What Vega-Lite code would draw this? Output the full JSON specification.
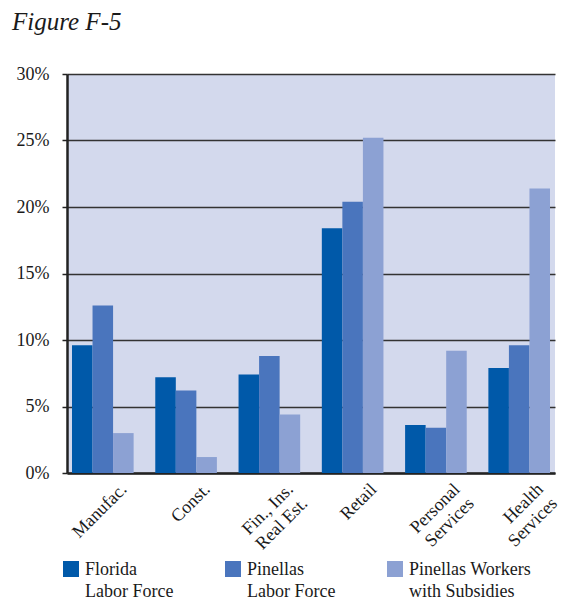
{
  "$schema": "https://vega.github.io/schema/vega-lite/v6.json",
  "autosize": {"type": "none"},
  "width": 488,
  "height": 399,
  "padding": {"left": 67, "top": 74, "right": 8, "bottom": 137},
  "background": "white",
  "title": {
    "text": "Figure F-5",
    "font": "Liberation Serif",
    "fontStyle": "italic",
    "fontWeight": "normal",
    "fontSize": 25,
    "color": "#1a1a1a",
    "anchor": "start",
    "frame": "group",
    "dx": -55,
    "offset": 30
  },
  "data": {
    "values": [
      {"category": "Manufac.", "series": "Florida|Labor Force", "value": 9.6},
      {"category": "Manufac.", "series": "Pinellas|Labor Force", "value": 12.6},
      {"category": "Manufac.", "series": "Pinellas Workers|with Subsidies", "value": 3.0},
      {"category": "Const.", "series": "Florida|Labor Force", "value": 7.2},
      {"category": "Const.", "series": "Pinellas|Labor Force", "value": 6.2},
      {"category": "Const.", "series": "Pinellas Workers|with Subsidies", "value": 1.2},
      {"category": "Fin., Ins.|Real Est.", "series": "Florida|Labor Force", "value": 7.4},
      {"category": "Fin., Ins.|Real Est.", "series": "Pinellas|Labor Force", "value": 8.8},
      {"category": "Fin., Ins.|Real Est.", "series": "Pinellas Workers|with Subsidies", "value": 4.4},
      {"category": "Retail", "series": "Florida|Labor Force", "value": 18.4},
      {"category": "Retail", "series": "Pinellas|Labor Force", "value": 20.4},
      {"category": "Retail", "series": "Pinellas Workers|with Subsidies", "value": 25.2},
      {"category": "Personal|Services", "series": "Florida|Labor Force", "value": 3.6},
      {"category": "Personal|Services", "series": "Pinellas|Labor Force", "value": 3.4},
      {"category": "Personal|Services", "series": "Pinellas Workers|with Subsidies", "value": 9.2},
      {"category": "Health|Services", "series": "Florida|Labor Force", "value": 7.9},
      {"category": "Health|Services", "series": "Pinellas|Labor Force", "value": 9.6},
      {"category": "Health|Services", "series": "Pinellas Workers|with Subsidies", "value": 21.4}
    ]
  },
  "mark": {"type": "bar"},
  "encoding": {
    "x": {
      "field": "category",
      "type": "nominal",
      "sort": ["Manufac.", "Const.", "Fin., Ins.|Real Est.", "Retail", "Personal|Services", "Health|Services"],
      "scale": {"paddingInner": 0.26, "paddingOuter": 0.06},
      "axis": {
        "title": null,
        "ticks": false,
        "domainColor": "#222222",
        "domainWidth": 2.5,
        "labelAngle": -45,
        "labelAlign": "right",
        "labelBaseline": "top",
        "labelExpr": "split(datum.label, '|')",
        "labelFont": "Liberation Serif",
        "labelFontSize": 18,
        "labelColor": "#1a1a1a",
        "labelLineHeight": 20,
        "labelOffset": 15,
        "labelPadding": 7,
        "labelLimit": 200
      }
    },
    "xOffset": {
      "field": "series",
      "type": "nominal",
      "sort": ["Florida|Labor Force", "Pinellas|Labor Force", "Pinellas Workers|with Subsidies"]
    },
    "y": {
      "field": "value",
      "type": "quantitative",
      "scale": {"domain": [0, 30]},
      "axis": {
        "title": null,
        "values": [0, 5, 10, 15, 20, 25, 30],
        "labelExpr": "datum.value + '%'",
        "grid": true,
        "gridColor": "#333333",
        "gridWidth": 1.5,
        "tickSize": 5,
        "tickColor": "#222222",
        "tickWidth": 1.5,
        "domainColor": "#222222",
        "domainWidth": 2.5,
        "labelFont": "Liberation Serif",
        "labelFontSize": 18,
        "labelColor": "#1a1a1a",
        "labelPadding": 13
      }
    },
    "color": {
      "field": "series",
      "type": "nominal",
      "sort": ["Florida|Labor Force", "Pinellas|Labor Force", "Pinellas Workers|with Subsidies"],
      "scale": {
        "domain": ["Florida|Labor Force", "Pinellas|Labor Force", "Pinellas Workers|with Subsidies"],
        "range": ["#0059A9", "#4A75BD", "#8CA1D3"]
      },
      "legend": {
        "title": null,
        "orient": "none",
        "legendX": -5,
        "legendY": 486,
        "direction": "horizontal",
        "columns": 3,
        "symbolType": "square",
        "symbolSize": 256,
        "symbolStrokeWidth": 0,
        "symbolOpacity": 1,
        "labelExpr": "split(datum.label, '|')",
        "labelFont": "Liberation Serif",
        "labelFontSize": 18,
        "labelColor": "#1a1a1a",
        "labelBaseline": "top",
        "labelOffset": 5,
        "labelLimit": 300,
        "columnPadding": 50,
        "encode": {
          "labels": {"update": {"dy": {"value": -8}, "lineHeight": {"value": 22}}}
        }
      }
    }
  },
  "config": {
    "view": {"fill": "#D3D9ED", "stroke": null}
  }
}
